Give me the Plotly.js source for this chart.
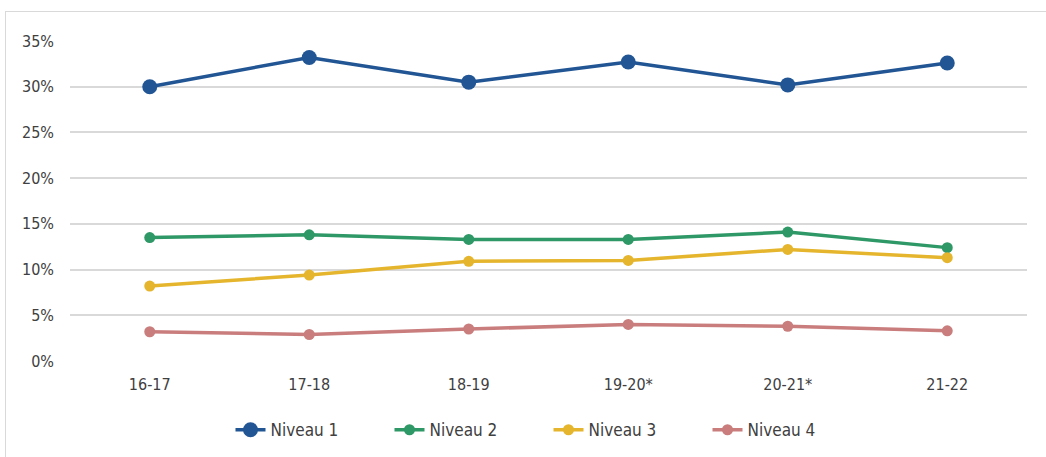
<!DOCTYPE html>
<html>
<head>
<meta charset="utf-8">
<script src="https://cdn.plot.ly/plotly-3.0.1.min.js"></script>
<style>
  html, body { margin: 0; padding: 0; background: #fff; }
  #wrap { position: relative; width: 1046px; height: 457px; }
  #frame { position: absolute; left: 5px; top: 11px; right: 0; bottom: 0;
           border-left: 1px solid #d9d9d9; border-top: 1px solid #d9d9d9; pointer-events: none; }
  #container { width: 1046px; height: 457px; }
</style>
</head>
<body>
<div id="wrap">
  <div id="container"></div>
  <div id="frame"></div>
</div>
<script>
const years = ["16-17", "17-18", "18-19", "19-20*", "20-21*", "21-22"];

const niveau1 = [0.300, 0.332, 0.305, 0.327, 0.302, 0.326];
const niveau2 = [0.135, 0.138, 0.133, 0.133, 0.141, 0.124];
const niveau3 = [0.082, 0.094, 0.109, 0.110, 0.122, 0.113];
const niveau4 = [0.032, 0.029, 0.035, 0.040, 0.038, 0.033];

const seriesNames = ["Niveau 1", "Niveau 2", "Niveau 3", "Niveau 4"];
const seriesColors = ["#215594", "#2e9866", "#e5b52d", "#c97d7d"];
const markerSizes = [15, 11, 11, 11];

const font = "'DejaVu Sans Condensed', 'Liberation Sans Narrow', 'DejaVu Sans', sans-serif";

const traces = [niveau1, niveau2, niveau3, niveau4].map((vals, i) => ({
    x: years,
    y: vals,
    type: "scatter",
    mode: "lines+markers",
    name: seriesNames[i],
    line: { color: seriesColors[i], width: 3.5 },
    marker: { color: seriesColors[i], size: markerSizes[i] }
}));

const layout = {
    width: 1046,
    height: 457,
    margin: { t: 41, r: 19, b: 96, l: 70, autoexpand: false },
    paper_bgcolor: "rgba(0,0,0,0)",
    plot_bgcolor: "#fff",
    font: { family: font, size: 16, color: "#404040" },
    showlegend: true,
    legend: {
        orientation: "h",
        x: 0.5, xanchor: "center",
        y: -0.16, yanchor: "top",
        font: { family: font, size: 17, color: "#404040" },
        entrywidth: 114,
        entrywidthmode: "pixels",
        tracegroupgap: 0
    },
    xaxis: {
        type: "category",
        range: [-0.5, 5.5],
        showgrid: false,
        zeroline: false,
        showline: false,
        ticks: "",
        ticklabelstandoff: 12,
        tickfont: { family: font, size: 16, color: "#404040" }
    },
    yaxis: {
        range: [0, 0.35],
        dtick: 0.05,
        tickformat: ".0%",
        showgrid: true,
        gridcolor: "#d9d9d9",
        gridwidth: 2,
        zeroline: false,
        showline: false,
        ticks: "",
        ticklabelstandoff: 15,
        tickfont: { family: font, size: 16, color: "#404040" }
    }
};

Plotly.newPlot("container", traces, layout, { displayModeBar: false });
</script>
</body>
</html>
